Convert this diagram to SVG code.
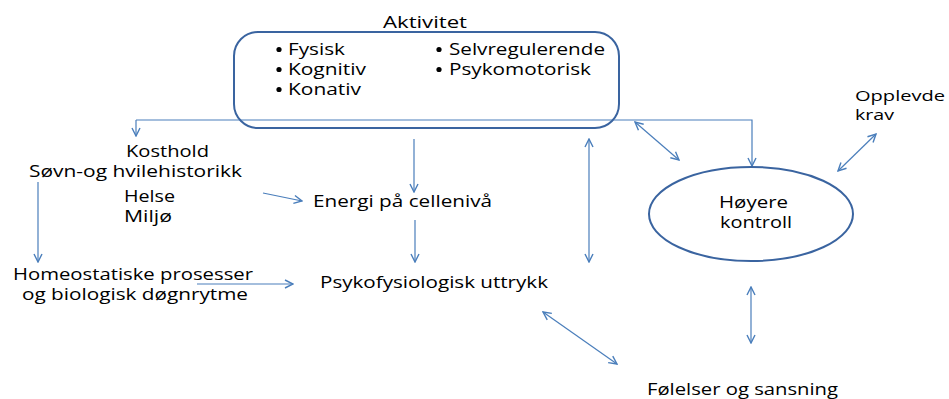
<svg xmlns="http://www.w3.org/2000/svg" width="949" height="399" viewBox="0 0 949 399">
<style>
text{font-family:"Open Sans","Liberation Sans",sans-serif;font-size:16px;fill:#000}
.s{font-size:15px}
.ln{fill:none;stroke:#4a7ebb;stroke-width:1.2}
.shape{fill:none;stroke:#3a64a0;stroke-width:2}
.b{fill:#000}
</style>
<defs>
<marker id="ah" viewBox="0 0 10 10" refX="9" refY="5" markerWidth="10" markerHeight="10" markerUnits="userSpaceOnUse" orient="auto-start-reverse">
<path d="M1,1 L9,5 L1,9" fill="none" stroke="#4a7ebb" stroke-width="1.4"/>
</marker>
</defs>
<g id="connectors">
<polyline class="ln" points="136,120 752,120 752,166" marker-end="url(#ah)"/>
<line class="ln" x1="136" y1="120" x2="136" y2="136" marker-end="url(#ah)"/>
<line class="ln" x1="38" y1="182" x2="38" y2="262" marker-end="url(#ah)"/>
<line class="ln" x1="263" y1="193" x2="302" y2="201" marker-end="url(#ah)"/>
<line class="ln" x1="197" y1="284" x2="293" y2="284" marker-end="url(#ah)"/>
<line class="ln" x1="414" y1="139" x2="414" y2="192" marker-end="url(#ah)"/>
<line class="ln" x1="415" y1="220" x2="415" y2="262" marker-end="url(#ah)"/>
<line class="ln" x1="589" y1="139" x2="589" y2="262" marker-start="url(#ah)" marker-end="url(#ah)"/>
<line class="ln" x1="635" y1="122" x2="679" y2="160" marker-start="url(#ah)" marker-end="url(#ah)"/>
<line class="ln" x1="876" y1="134" x2="838" y2="171" marker-start="url(#ah)" marker-end="url(#ah)"/>
<line class="ln" x1="543" y1="312" x2="617" y2="364" marker-start="url(#ah)" marker-end="url(#ah)"/>
<line class="ln" x1="751" y1="287" x2="751" y2="343" marker-start="url(#ah)" marker-end="url(#ah)"/>
</g>
<g id="aktivitet">
<text x="383" y="28" textLength="84" lengthAdjust="spacingAndGlyphs">Aktivitet</text>
<rect class="shape" x="234" y="32" width="385" height="96" rx="24" ry="24"/>
<circle class="b" cx="279" cy="49.5" r="2.6"/><text x="288" y="55" textLength="57" lengthAdjust="spacingAndGlyphs">Fysisk</text>
<circle class="b" cx="279" cy="69.5" r="2.6"/><text x="288" y="75" textLength="78" lengthAdjust="spacingAndGlyphs">Kognitiv</text>
<circle class="b" cx="279" cy="89.5" r="2.6"/><text x="288" y="95" textLength="73" lengthAdjust="spacingAndGlyphs">Konativ</text>
<circle class="b" cx="439" cy="49.5" r="2.6"/><text x="449" y="55" textLength="156" lengthAdjust="spacingAndGlyphs">Selvregulerende</text>
<circle class="b" cx="439" cy="69.5" r="2.6"/><text x="449" y="75" textLength="142" lengthAdjust="spacingAndGlyphs">Psykomotorisk</text>
</g>
<g id="faktorer">
<text x="126" y="157" textLength="83" lengthAdjust="spacingAndGlyphs">Kosthold</text>
<text x="29" y="177" textLength="213" lengthAdjust="spacingAndGlyphs">Søvn-og hvilehistorikk</text>
<text x="124" y="202" textLength="51" lengthAdjust="spacingAndGlyphs">Helse</text>
<text x="124" y="222" textLength="48" lengthAdjust="spacingAndGlyphs">Miljø</text>
</g>
<g id="homeostatiske">
<text x="13" y="280" textLength="240" lengthAdjust="spacingAndGlyphs">Homeostatiske prosesser</text>
<text x="22" y="300" textLength="226" lengthAdjust="spacingAndGlyphs">og biologisk døgnrytme</text>
</g>
<g id="energi">
<text x="313" y="207" textLength="179" lengthAdjust="spacingAndGlyphs">Energi på cellenivå</text>
</g>
<g id="psykofysiologisk">
<text x="320" y="288" textLength="228" lengthAdjust="spacingAndGlyphs">Psykofysiologisk uttrykk</text>
</g>
<g id="hoyere">
<ellipse class="shape" cx="751" cy="214" rx="102" ry="47"/>
<text x="719" y="208" textLength="69" lengthAdjust="spacingAndGlyphs">Høyere</text>
<text x="720" y="228" textLength="72" lengthAdjust="spacingAndGlyphs">kontroll</text>
</g>
<g id="opplevde">
<text class="s" x="855" y="101" textLength="90" lengthAdjust="spacingAndGlyphs">Opplevde</text>
<text class="s" x="855" y="120" textLength="39" lengthAdjust="spacingAndGlyphs">krav</text>
</g>
<g id="folelser">
<text x="647" y="395" textLength="191" lengthAdjust="spacingAndGlyphs">Følelser og sansning</text>
</g>
</svg>
